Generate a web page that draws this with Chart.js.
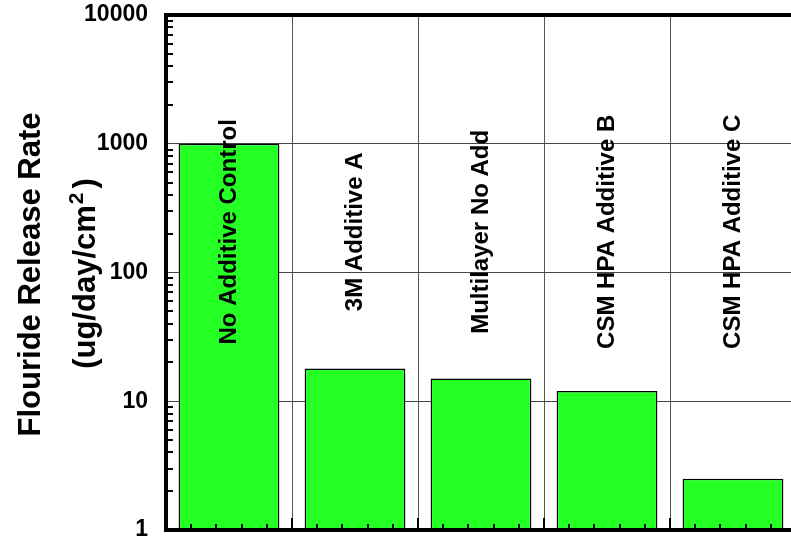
<!DOCTYPE html>
<html><head><meta charset="utf-8">
<script src="https://cdn.jsdelivr.net/npm/chart.js@4.4.1/dist/chart.umd.min.js"></script>
<style>html,body{margin:0;padding:0;overflow:hidden;background:#fff}
#wrap{width:800px;height:539px;position:relative}</style></head>
<body><div id="wrap"><canvas id="c"></canvas></div>
<script>
const categories = ["No Additive Control", "3M Additive A", "Multilayer No Add", "CSM HPA Additive B", "CSM HPA Additive C"];
const releaseRates = [1000, 18, 15, 12, 2.5];
const yTickValues = [1, 10, 100, 1000, 10000];
const yTitleLine1 = "Flouride Release Rate";
const yTitleLine2 = ["(ug/day/cm", "2", ")"];

const FONT = '"Liberation Sans", Arial, sans-serif';

const decor = {
  id: 'decor',
  afterDraw(chart) {
    const ctx = chart.ctx;
    const ca = chart.chartArea;
    const yMid = (ca.top + ca.bottom) / 2 + 2;
    ctx.save();
    ctx.fillStyle = '#000';
    ctx.textBaseline = 'alphabetic';
    // line 1
    ctx.save();
    ctx.translate(40, yMid);
    ctx.rotate(-Math.PI / 2);
    ctx.font = 'bold 31px ' + FONT;
    ctx.textAlign = 'center';
    ctx.fillText(yTitleLine1, 0, 0);
    ctx.restore();
    // line 2 with superscript
    ctx.save();
    ctx.font = 'bold 31px ' + FONT;
    const w1 = ctx.measureText(yTitleLine2[0]).width;
    const w3 = ctx.measureText(yTitleLine2[2]).width;
    ctx.font = 'bold 21px ' + FONT;
    const w2 = ctx.measureText(yTitleLine2[1]).width;
    const gap = 4;
    const total = w1 + 1 + w2 + gap + w3;
    ctx.translate(95, yMid - 1);
    ctx.rotate(-Math.PI / 2);
    ctx.textAlign = 'left';
    let x = -total / 2;
    ctx.font = 'bold 31px ' + FONT;
    ctx.fillText(yTitleLine2[0], x, 0);
    x += w1 + 1;
    ctx.font = 'bold 21px ' + FONT;
    ctx.fillText(yTitleLine2[1], x, -12);
    x += w2 + gap;
    ctx.font = 'bold 31px ' + FONT;
    ctx.fillText(yTitleLine2[2], x, 0);
    ctx.restore();
    ctx.restore();
  },
  afterDatasetsDraw(chart) {
    const ctx = chart.ctx;
    const ca = chart.chartArea;
    const xs = chart.scales.x, ys = chart.scales.y;
    ctx.save();
    ctx.strokeStyle = '#000';
    ctx.lineWidth = 2;
    // y minor ticks
    for (let k = 0; k < yTickValues.length - 1; k++) {
      for (let d = 2; d <= 9; d++) {
        const y = Math.round(ys.getPixelForValue(d * yTickValues[k]));
        ctx.beginPath(); ctx.moveTo(ca.left, y); ctx.lineTo(ca.left + 7, y); ctx.stroke();
      }
    }
    // x ticks
    const w = xs.getPixelForValue(1) - xs.getPixelForValue(0);
    for (let i = 0; i < categories.length; i++) {
      const c = xs.getPixelForValue(i);
      for (let k = 1; k <= 4; k++) {
        const x = Math.round(c + (k / 5 - 0.5) * w);
        ctx.beginPath(); ctx.moveTo(x, ca.bottom); ctx.lineTo(x, ca.bottom - 6); ctx.stroke();
      }
      if (i > 0) {
        const xb = Math.round(c - w / 2);
        ctx.beginPath(); ctx.moveTo(xb, ca.bottom); ctx.lineTo(xb, ca.bottom - 12); ctx.stroke();
      }
    }
    // bar labels
    ctx.fillStyle = '#000';
    ctx.font = 'bold 24px ' + FONT;
    ctx.textAlign = 'center';
    ctx.textBaseline = 'middle';
    const yc = ca.top + 0.421 * (ca.bottom - ca.top);
    for (let i = 0; i < categories.length; i++) {
      const x = xs.getPixelForValue(i);
      ctx.save();
      ctx.translate(x, yc);
      ctx.rotate(-Math.PI / 2);
      ctx.fillText(categories[i], 0, 0);
      ctx.restore();
    }
    // frame
    ctx.lineWidth = 4;
    ctx.beginPath();
    ctx.moveTo(ca.right + 10, ca.top);
    ctx.lineTo(ca.left, ca.top);
    ctx.lineTo(ca.left, ca.bottom);
    ctx.lineTo(ca.right + 10, ca.bottom);
    ctx.stroke();
    ctx.restore();
  }
};

new Chart(document.getElementById('c'), {
  type: 'bar',
  data: {
    labels: categories,
    datasets: [{
      data: releaseRates,
      backgroundColor: '#24FF24',
      borderColor: '#000',
      borderWidth: 1.5,
      barPercentage: 1,
      categoryPercentage: 0.8
    }]
  },
  options: {
    responsive: true,
    maintainAspectRatio: false,
    animation: false,
    devicePixelRatio: 1,
    layout: { padding: { left: 0, right: 4, top: 15, bottom: 9 } },
    plugins: { legend: { display: false }, tooltip: { enabled: false } },
    scales: {
      x: {
        type: 'category',
        ticks: { display: false },
        grid: { offset: true, color: '#555', lineWidth: 1, drawTicks: false },
        border: { display: false },
        afterFit(s) { s.height = 0; }
      },
      y: {
        type: 'logarithmic',
        min: 1,
        max: 10000,
        afterBuildTicks(s) { s.ticks = yTickValues.map(v => ({ value: v })); },
        afterFit(s) { s.width = 166; s.paddingTop = 0; s.paddingBottom = 0; },
        ticks: {
          autoSkip: false,
          padding: 18,
          color: '#000',
          font: { family: FONT, size: 23, weight: 'bold' },
          callback: (v) => String(v)
        },
        grid: { color: '#444', lineWidth: 1, drawTicks: false },
        border: { display: false },
        title: { display: false }
      }
    }
  },
  plugins: [decor]
});
</script></body></html>
